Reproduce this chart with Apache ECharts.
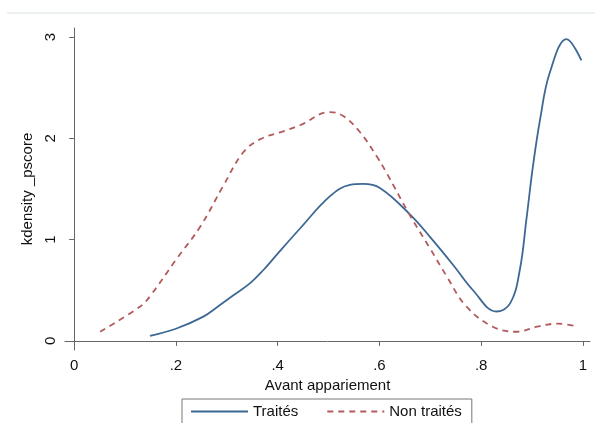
<!DOCTYPE html>
<html>
<head>
<meta charset="utf-8">
<script src="https://cdn.jsdelivr.net/npm/echarts@6/dist/echarts.min.js"></script>
<style>
  html, body { margin: 0; padding: 0; background: #fff; }
  #chart { width: 595px; height: 423px; }
</style>
</head>
<body>
<div id="chart"></div>
<script>
// courbes (x = score, y = densité)
const traites = [
  [0.149, 0.05], [0.20, 0.12], [0.254, 0.24], [0.28, 0.33], [0.313, 0.45],
  [0.346, 0.57], [0.372, 0.70], [0.398, 0.85], [0.444, 1.11], [0.503, 1.43],
  [0.542, 1.54], [0.568, 1.55], [0.601, 1.51], [0.66, 1.25], [0.699, 1.03],
  [0.745, 0.75], [0.784, 0.50], [0.830, 0.29], [0.857, 0.37], [0.876, 0.70],
  [0.889, 1.20], [0.902, 1.73], [0.916, 2.19], [0.935, 2.65], [0.968, 2.98],
  [0.997, 2.77]
]
const nonTraites = [
  [0.051, 0.09], [0.13, 0.34], [0.149, 0.44], [0.20, 0.80], [0.248, 1.13],
  [0.293, 1.53], [0.332, 1.86], [0.365, 1.99], [0.411, 2.07], [0.444, 2.13],
  [0.503, 2.26], [0.529, 2.22], [0.562, 2.06], [0.595, 1.82], [0.614, 1.66],
  [0.66, 1.24], [0.70, 0.91], [0.732, 0.64], [0.771, 0.34], [0.823, 0.14],
  [0.87, 0.09], [0.91, 0.14], [0.95, 0.17], [0.99, 0.14]
]
const xTicks = [0, 0.2, 0.4, 0.6, 0.8, 1]
const xTickLabels = ['0', '.2', '.4', '.6', '.8', '1']
const yTicks = [0, 1, 2, 3]

const font = 'Liberation Sans, Arial, sans-serif'
let myChart = echarts.init(document.getElementById('chart'))
const options = {
    animation: false,
    backgroundColor: '#fff',
    textStyle: { fontFamily: font },
    graphic: [{
        type: 'line',
        shape: { x1: 7, y1: 13, x2: 595, y2: 13 },
        style: { stroke: '#e6eded', lineWidth: 1.5 }
    }],
    grid: { left: 65, right: 5, top: 28, bottom: 73 },
    xAxis: {
        type: 'value',
        min: -0.018,
        max: 1.014,
        name: 'Avant appariement',
        nameLocation: 'middle',
        nameGap: 28,
        nameTextStyle: { fontSize: 15, color: '#111', fontFamily: font },
        axisLine: { show: true, lineStyle: { color: '#666', width: 1 } },
        axisTick: { show: true, length: 5, customValues: xTicks, lineStyle: { color: '#666' } },
        axisLabel: {
            customValues: xTicks,
            margin: 8,
            fontSize: 15,
            color: '#111',
            fontFamily: font,
            formatter: v => xTickLabels[xTicks.findIndex(t => Math.abs(t - v) < 1e-6)]
        },
        splitLine: { show: false }
    },
    yAxis: {
        type: 'value',
        min: -0.09,
        max: 3.09,
        name: 'kdensity _pscore',
        nameLocation: 'middle',
        nameRotate: 90,
        nameGap: 25,
        nameTextStyle: { fontSize: 15, color: '#111', fontFamily: font },
        axisLine: { show: true, lineStyle: { color: '#666', width: 1 } },
        axisTick: { show: true, length: 5, customValues: yTicks, lineStyle: { color: '#666' } },
        axisLabel: {
            customValues: yTicks,
            rotate: 90,
            margin: 7,
            fontSize: 15,
            color: '#111',
            fontFamily: font
        },
        splitLine: { show: false }
    },
    legend: {
        left: 182,
        top: 399,
        padding: [5, 10, 10, 8],
        itemGap: 28,
        itemWidth: 57,
        itemHeight: 10,
        borderColor: '#777',
        borderWidth: 1,
        itemStyle: { opacity: 0 },
        textStyle: { fontSize: 15, color: '#111', fontFamily: font },
        data: ['Traités', 'Non traités']
    },
    series: [
        {
            name: 'Traités',
            type: 'line',
            data: traites,
            smooth: 0.4,
            symbol: 'none',
            lineStyle: { color: '#3d6894', width: 1.8 },
            itemStyle: { color: '#3d6894' }
        },
        {
            name: 'Non traités',
            type: 'line',
            data: nonTraites,
            smooth: 0.4,
            symbol: 'none',
            lineStyle: { color: '#b35a5d', width: 1.8, type: [6, 5] },
            itemStyle: { color: '#b35a5d' }
        }
    ]
}
myChart.setOption(options)
</script>
</body>
</html>
